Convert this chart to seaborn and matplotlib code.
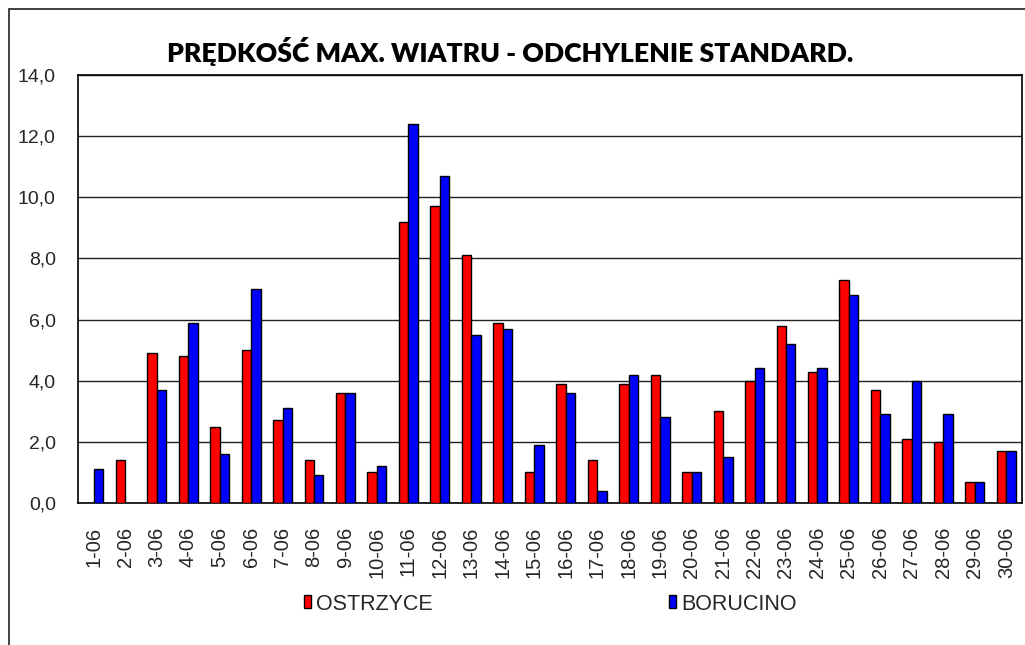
import numpy as np
import pandas as pd
import matplotlib
matplotlib.use("Agg")
import matplotlib.pyplot as plt
from matplotlib.patches import Rectangle
from matplotlib.ticker import FuncFormatter, FixedLocator
import seaborn as sns

# Daily standard deviation of maximum wind speed, June
days = [f"{d}-06" for d in range(1, 31)]
ostrzyce = [None, 1.4, 4.9, 4.8, 2.5, 5.0, 2.7, 1.4, 3.6, 1.0,
            9.2, 9.7, 8.1, 5.9, 1.0, 3.9, 1.4, 3.9, 4.2, 1.0,
            3.0, 4.0, 5.8, 4.3, 7.3, 3.7, 2.1, 2.0, 0.7, 1.7]
borucino = [1.1, None, 3.7, 5.9, 1.6, 7.0, 3.1, 0.9, 3.6, 1.2,
            12.4, 10.7, 5.5, 5.7, 1.9, 3.6, 0.4, 4.2, 2.8, 1.0,
            1.5, 4.4, 5.2, 4.4, 6.8, 2.9, 4.0, 2.9, 0.7, 1.7]
stations = ["OSTRZYCE", "BORUCINO"]
colors = {"OSTRZYCE": "#FF0000", "BORUCINO": "#0000FF"}
title = "PRĘDKOŚĆ MAX. WIATRU - ODCHYLENIE STANDARD."

df = pd.DataFrame({
    "day": days * 2,
    "station": ["OSTRZYCE"] * len(days) + ["BORUCINO"] * len(days),
    "value": [np.nan if v is None else v for v in ostrzyce + borucino],
})

sns.set_style("white")
plt.rcParams["font.family"] = ["Liberation Sans", "DejaVu Sans"]

W, H = 1025, 645
fig = plt.figure(figsize=(W / 100, H / 100), dpi=100)
ax = fig.add_axes([78 / W, 1 - 503 / H, (1022 - 78) / W, (503 - 75) / H])

sns.barplot(data=df, x="day", y="value", hue="station", hue_order=stations,
            order=days, palette=colors, width=0.6, errorbar=None,
            edgecolor="black", linewidth=1.0, saturation=1, ax=ax, zorder=3)

ax.set_xlim(-0.5, len(days) - 0.5)
ax.set_ylim(0, 14)
ax.set_yticks(np.arange(0, 14.01, 2))
ax.yaxis.set_major_formatter(FuncFormatter(lambda v, p: f"{v:.1f}".replace(".", ",")))
ax.grid(axis="y", color="#222222", linewidth=1.0, zorder=0)
ax.set_axisbelow(True)

# category labels at centres, tick marks on category boundaries
ax.set_xticks(range(len(days)))
ax.set_xticklabels(days, rotation=90, fontsize=14.5)
ax.xaxis.set_minor_locator(FixedLocator(np.arange(-0.5, len(days), 1.0)))
ax.tick_params(axis="x", which="major", length=0, pad=17)
ax.tick_params(axis="x", which="minor", length=6, width=1, color="black", direction="out")
ax.tick_params(axis="y", which="major", length=6, width=1, color="black",
               direction="out", labelsize=14, pad=10)

for s in ax.spines.values():
    s.set_visible(True)
    s.set_color("black")
    s.set_linewidth(1.2)

ax.set_xlabel("")
ax.set_ylabel("")

fig.text(510 / W, 1 - 51 / H, title, ha="center", va="center", color="black",
         fontsize=19.2, fontweight="heavy", family=["Lato", "DejaVu Sans"])

handles, labels = ax.get_legend_handles_labels()
if ax.legend_:
    ax.legend_.remove()
fig.legend(handles, labels, loc="center", bbox_to_anchor=(550 / W, 1 - 604 / H),
           ncol=2, frameon=False, handlelength=0.33,
           handleheight=0.55, handletextpad=0.22, columnspacing=11.0,
           prop={"family": ["Liberation Sans", "DejaVu Sans"], "size": 15.5})

# outer chart frame
fig.patches.append(Rectangle((9 / W, -0.1), 1.2, 1.1 - 9 / H,
                             transform=fig.transFigure, fill=False,
                             edgecolor="#333333", linewidth=1.3))

fig.savefig("out.png", dpi=100, facecolor="white")
